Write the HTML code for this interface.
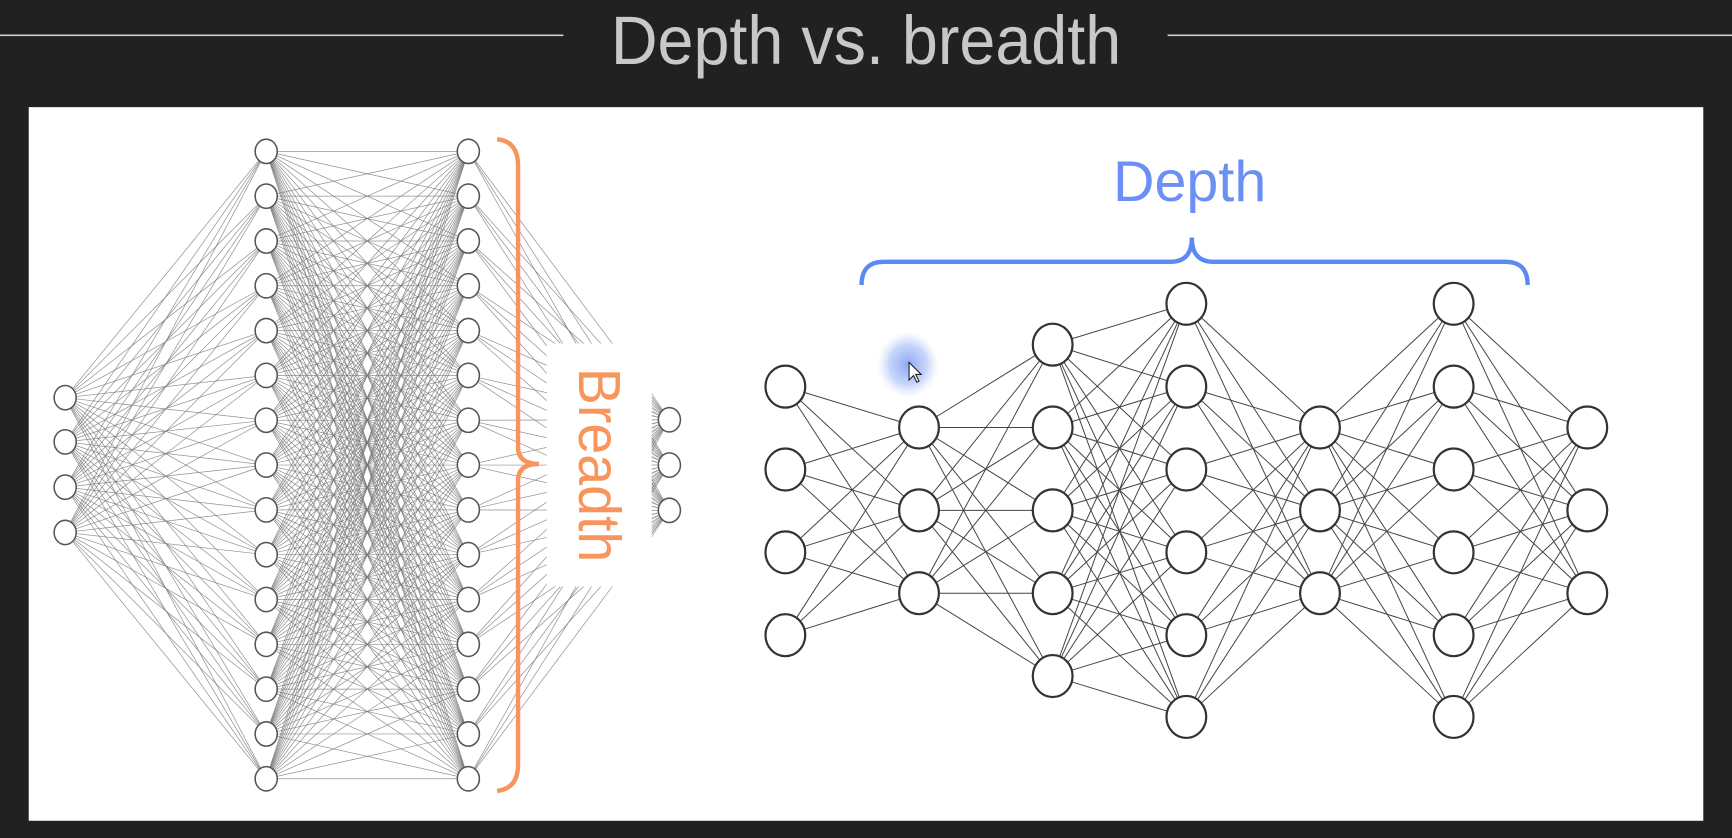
<!DOCTYPE html>
<html><head><meta charset="utf-8"><style>
html,body{margin:0;padding:0;background:#212121;}
svg{display:block;}
</style></head><body>
<svg id="s" width="1732" height="838" viewBox="0 0 1568 758.6" preserveAspectRatio="none" xmlns="http://www.w3.org/2000/svg">
<defs>
<radialGradient id="g"><stop offset="0" stop-color="#7f9ff5" stop-opacity="0.9"/><stop offset="0.6" stop-color="#9fb8f7" stop-opacity="0.6"/><stop offset="1" stop-color="#c8d6fb" stop-opacity="0"/></radialGradient>
</defs>
<rect width="1568" height="758.6" fill="#212121"/>
<line x1="0" y1="32" x2="510" y2="32" stroke="#cfcfcf" stroke-width="1.5"/>
<line x1="1057" y1="32" x2="1568" y2="32" stroke="#cfcfcf" stroke-width="1.5"/>
<text x="784" y="58" text-anchor="middle" font-family="Liberation Sans, sans-serif" font-size="62" font-weight="300" fill="#c8c8c8" textLength="462" lengthAdjust="spacingAndGlyphs">Depth vs. breadth</text>
<rect x="26" y="97" width="1516" height="646" fill="#fff"/>
<g id="left" stroke="#777" stroke-width="0.65" stroke-opacity="0.8"></g>
<rect x="495" y="311" width="95" height="220" fill="#fff"/>
<g id="stubs" stroke="#888" stroke-width="0.6" stroke-opacity="0.7"></g>
<g id="leftnodes" fill="#fff" stroke="#555" stroke-width="1.4"></g>
<path d="M450 126 Q469 128 469 150 L469 405 Q469 420 488 420 Q469 420 469 435 L469 692 Q469 714 450 716" fill="none" stroke="#f7955c" stroke-width="4"/>
<text transform="translate(524,421) rotate(90)" text-anchor="middle" font-family="Liberation Sans, sans-serif" font-size="54" fill="#f7955c" textLength="176" lengthAdjust="spacingAndGlyphs">Breadth</text>
<g id="right" stroke="#444" stroke-width="0.9"></g>
<g id="rightnodes" fill="#fff" stroke="#333" stroke-width="2"></g>
<path d="M780 258 Q780 237 800 237 L1060 237 Q1079 237 1079 215 Q1079 237 1098 237 L1363 237 Q1383 237 1383 258" fill="none" stroke="#5b8af5" stroke-width="4"/>
<text x="1077" y="182" text-anchor="middle" font-family="Liberation Sans, sans-serif" font-size="52" fill="#6b8ff5">Depth</text>
<ellipse cx="822" cy="330" rx="28" ry="30" fill="url(#g)"/>
<path d="M823 328 L823 344 L827 340 L830 346 L832 345 L829 339 L834 339 Z" fill="#fff" stroke="#222" stroke-width="1"/>
</svg>
<script>
var NS="http://www.w3.org/2000/svg";
function el(p,t,a){var e=document.createElementNS(NS,t);for(var k in a)e.setAttribute(k,a[k]);document.getElementById(p).appendChild(e);}
var L0=[360,400,441,482].map(y=>[59,y]);
var H1=[],H2=[];for(var i=0;i<15;i++){H1.push([241,137+i*40.57]);H2.push([424,137+i*40.57]);}
var O=[380,421,462].map(y=>[606,y]);
function conn(g,A,B){A.forEach(a=>B.forEach(b=>{el(g,'line',{x1:a[0],y1:a[1],x2:b[0],y2:b[1]});}));}
conn('left',L0,H1);conn('left',H1,H2);conn('left',H2,O);
O.forEach(o=>{for(var k=-6;k<=6;k++){el('stubs','line',{x1:590,y1:o[1]+k*4,x2:o[0],y2:o[1]});}});
L0.concat(H1,H2,O).forEach(p=>el('leftnodes','ellipse',{cx:p[0],cy:p[1],rx:10,ry:11}));
var xs=[711,832,953,1074,1195,1316,1437];
var ys=[[350,425,500,575],[387,462,537],[312,387,462,537,612],[275,350,425,500,575,649],[387,462,537],[275,350,425,500,575,649],[387,462,537]];
for(var l=0;l<6;l++)ys[l].forEach(a=>ys[l+1].forEach(b=>el('right','line',{x1:xs[l],y1:a,x2:xs[l+1],y2:b})));
for(var l=0;l<7;l++)ys[l].forEach(y=>el('rightnodes','ellipse',{cx:xs[l],cy:y,rx:18,ry:19}));
</script>
</body></html>
